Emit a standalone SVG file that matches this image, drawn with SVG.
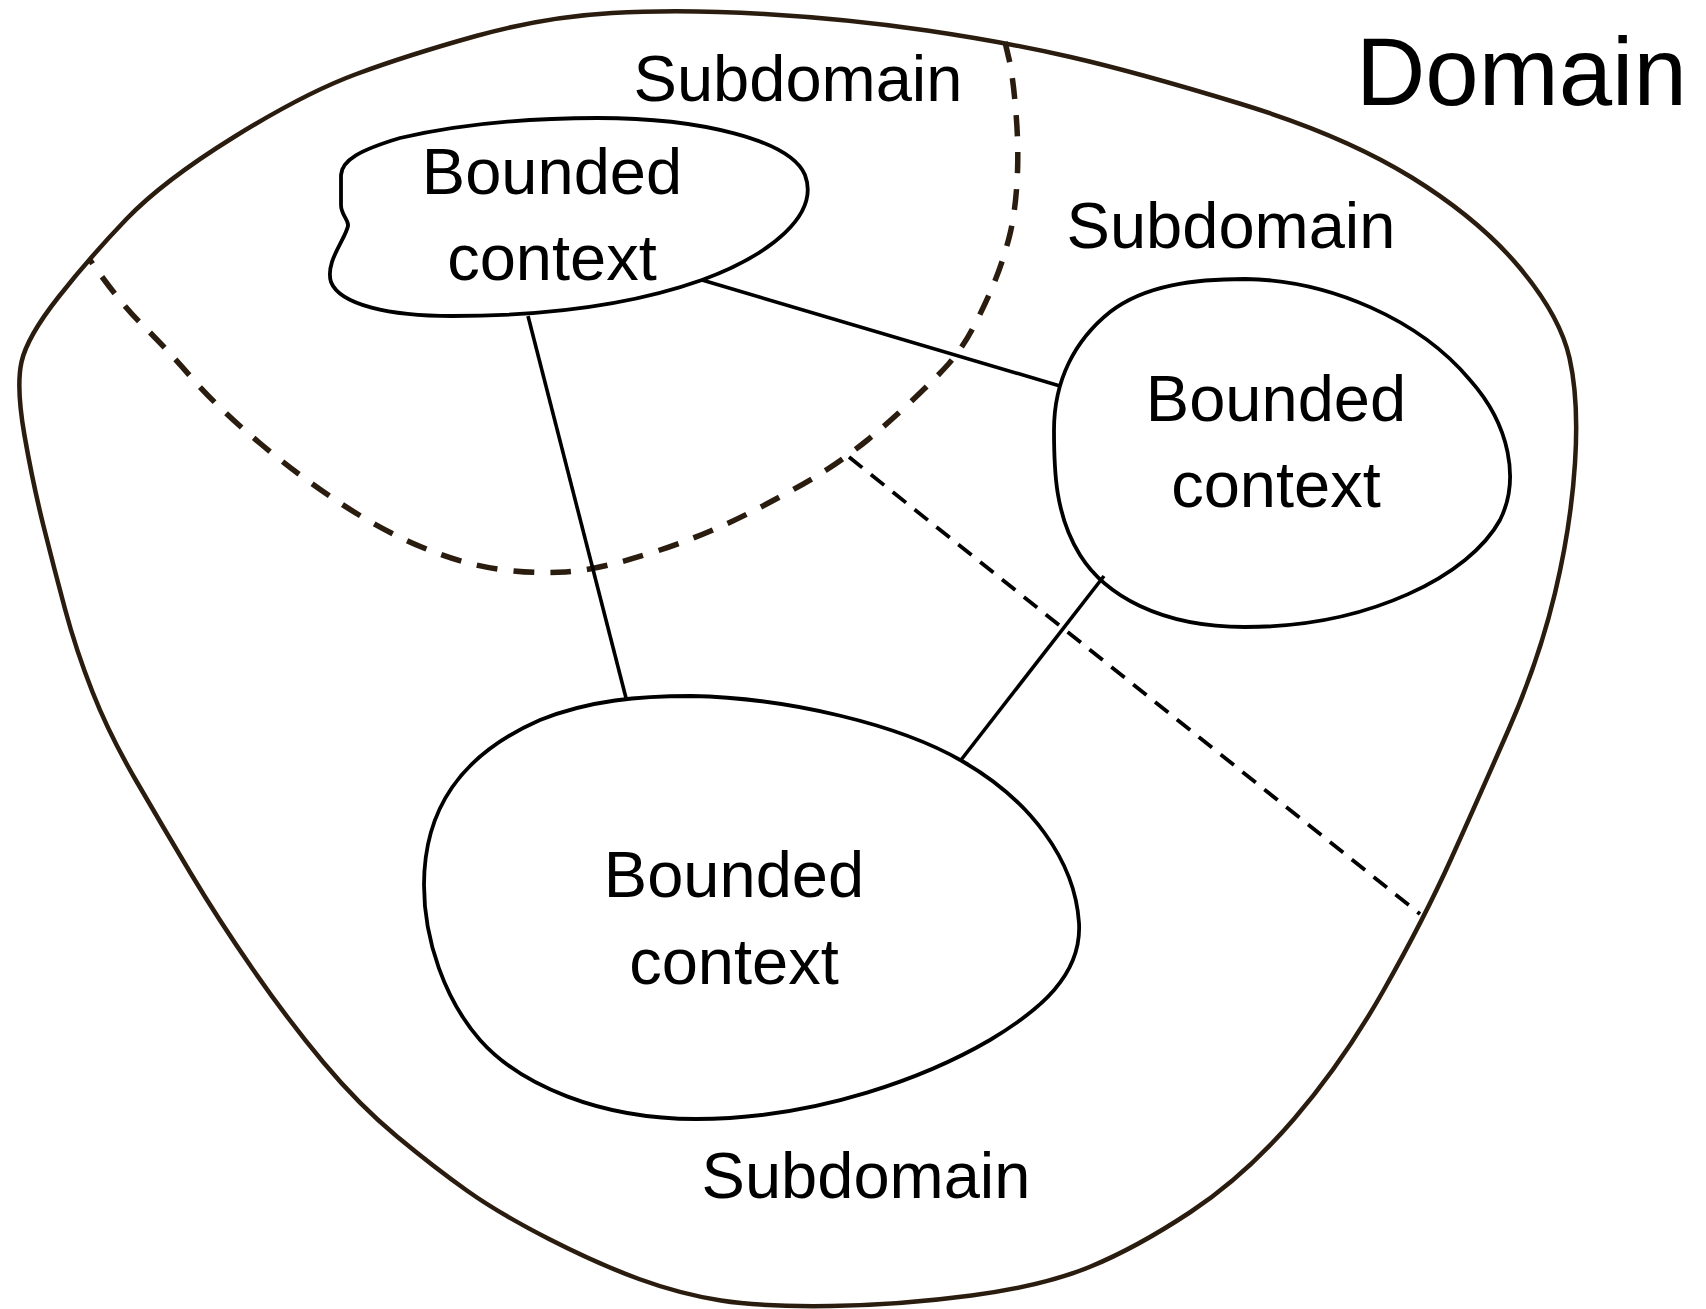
<svg xmlns="http://www.w3.org/2000/svg" width="1706" height="1309" viewBox="0 0 1706 1309">
<style>
  .outer { fill: none; stroke: #2a1d0f; stroke-width: 4.5; stroke-linejoin: round; }
  .bc { fill: none; stroke: #000; stroke-width: 3.8; stroke-linejoin: round; }
  .conn { stroke: #000; stroke-width: 3.6; fill: none; }
  .dash1 { fill: none; stroke: #2a1d0f; stroke-width: 5.5; stroke-dasharray: 21 16; }
  .dash2 { fill: none; stroke: #000; stroke-width: 3.8; stroke-dasharray: 17 11; }
  .lbl { font-family: "Liberation Sans", Arial, sans-serif; font-size: 65px; fill: #000; text-anchor: middle; }
  .big { font-family: "Liberation Sans", Arial, sans-serif; font-size: 96px; fill: #000; }
</style>
<rect width="1706" height="1309" fill="#fff"/>

<g id="domain">
  <path class="outer" d="M 24.5,435.5 Q 16,387 21.5,362 Q 27,337 58.5,297 Q 90,257 126.5,219 Q 163,181 234,137 Q 305,93 356.5,74 Q 408,55 476,36 Q 544,17 612,13 Q 680,9 764.5,14 Q 849,19 927,30.5 Q 1005,42 1070.5,57 Q 1136,72 1239.5,103.5 Q 1343,135 1411,177 Q 1479,219 1519.5,267.5 Q 1560,316 1569.5,358 Q 1579,400 1575,463 Q 1571,526 1555,593 Q 1539,660 1509,728.5 Q 1479,797 1451.5,858 Q 1424,919 1383.5,990.5 Q 1343,1062 1294,1119 Q 1245,1176 1190.5,1212 Q 1136,1248 1089.5,1267 Q 1043,1286 971.5,1295.5 Q 900,1305 831,1306 Q 762,1307 721,1300.5 Q 680,1294 639,1279 Q 598,1264 549,1239 Q 500,1214 467.5,1191 Q 435,1168 397,1136.5 Q 359,1105 323.5,1062.5 Q 288,1020 253,969.5 Q 218,919 190.5,873 Q 163,827 136,780.5 Q 109,734 92.5,692 Q 76,650 65,609 Q 54,568 43.5,526 Q 33,484 24.5,435.5 Z"/>
  <text class="big" x="1356" y="105">Domain</text>
</g>

<g id="subdomain-boundaries">
  <path class="dash1" d="M 1005,42 L 1009,59 Q 1013,76 1016,113 Q 1019,150 1017,182.5 Q 1015,215 1009,238 Q 1003,261 994.5,282 Q 986,303 974,326 Q 962,349 948.5,364 Q 935,379 910.5,402 Q 886,425 867.5,440 Q 849,455 827,469.5 Q 805,484 756,509.5 Q 707,535 652.5,552.5 Q 598,570 565.5,572 Q 533,574 497.5,569 Q 462,564 421.5,547 Q 381,530 340,503 Q 299,476 258.5,442 Q 218,408 190.5,376.5 Q 163,345 141.5,324 Q 120,303 90,260"/>
  <path class="dash2" d="M 849,457 L 1420,914"/>
</g>

<g id="subdomain-top">
  <text class="lbl" x="798" y="101">Subdomain</text>
</g>
<g id="subdomain-right">
  <text class="lbl" x="1231" y="248">Subdomain</text>
</g>
<g id="subdomain-bottom">
  <text class="lbl" x="866" y="1198">Subdomain</text>
</g>

<g id="connectors">
  <line class="conn" x1="702" y1="280" x2="1060" y2="386"/>
  <line class="conn" x1="528" y1="316" x2="626" y2="698"/>
  <line class="conn" x1="1104" y1="576" x2="961" y2="760"/>
</g>

<g id="bc-top">
  <path class="bc" d="M 598,118 C 700,118 790,140 805,175 C 820,215 770,255 702,280 C 640,302 560,316 452,316 C 390,316 340,305 331,282 C 325,262 345,240 348,226 C 349,220 341,215 341,205 L 341,175 C 342,160 360,150 400,138 C 460,124 530,118 598,118 Z"/>
  <text class="lbl" x="552" y="194">Bounded</text>
  <text class="lbl" x="552" y="280">context</text>
</g>

<g id="bc-right">
  <path class="bc" d="M 1245,279 C 1330,280 1420,320 1470,380 C 1510,425 1520,480 1500,520 C 1470,575 1370,627 1245,627 C 1160,627 1105,595 1080,555 C 1055,515 1054,470 1054,430 C 1054,380 1075,340 1110,312 C 1145,285 1195,279 1245,279 Z"/>
  <text class="lbl" x="1276" y="421">Bounded</text>
  <text class="lbl" x="1276" y="507">context</text>
</g>

<g id="bc-bottom">
  <path class="bc" d="M 691,696 C 790,698 900,725 962,761 C 1030,800 1075,860 1079,923 C 1082,975 1040,1010 990,1040 C 930,1075 820,1119 696,1119 C 600,1119 520,1085 480,1040 C 445,1000 424,940 424,885 C 424,810 460,755 540,720 C 590,700 640,696 691,696 Z"/>
  <text class="lbl" x="734" y="897">Bounded</text>
  <text class="lbl" x="734" y="984">context</text>
</g>
</svg>
